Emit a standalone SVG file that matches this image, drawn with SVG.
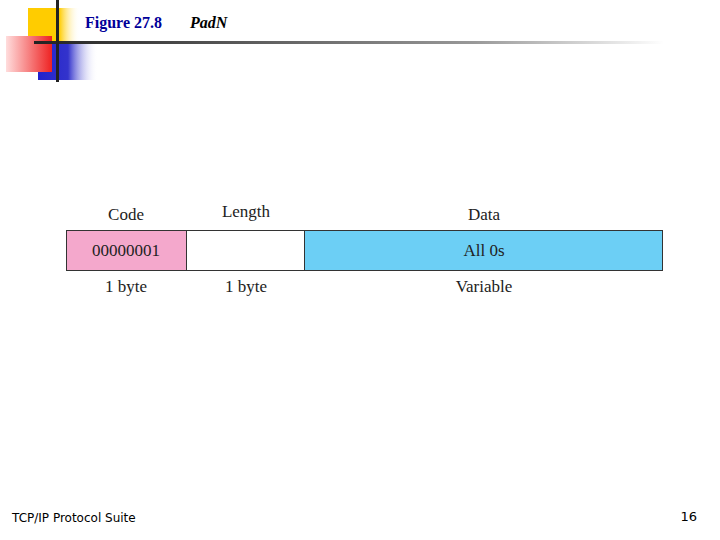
<svg xmlns="http://www.w3.org/2000/svg" width="720" height="540" viewBox="0 0 720 540">
<defs>
<linearGradient id="gy" x1="0" x2="1"><stop offset="0" stop-color="#ffcc00"/><stop offset="0.6" stop-color="#ffcc00"/><stop offset="1" stop-color="#fff" stop-opacity="0"/></linearGradient>
<linearGradient id="gr" x1="1" x2="0"><stop offset="0" stop-color="#ee2222"/><stop offset="1" stop-color="#ffdddd"/></linearGradient>
<linearGradient id="gb" x1="0" x2="1"><stop offset="0" stop-color="#2222cc"/><stop offset="0.5" stop-color="#3333cc"/><stop offset="1" stop-color="#fff" stop-opacity="0"/></linearGradient>
<linearGradient id="gl" x1="0" x2="1"><stop offset="0" stop-color="#222"/><stop offset="0.7" stop-color="#999"/><stop offset="1" stop-color="#fff"/></linearGradient>
<style>.t{font-family:"Liberation Serif",serif;font-size:17px;fill:#222;text-anchor:middle}</style>
</defs>
<g id="decor">
<rect x="28" y="8" width="52" height="37" fill="url(#gy)"/>
<rect x="38" y="42" width="60" height="38" fill="url(#gb)"/>
<rect x="6" y="36" width="46" height="36" fill="url(#gr)"/>
<rect x="34" y="41" width="630" height="3" fill="url(#gl)"/>
<rect x="56" y="0" width="3" height="82" fill="#222"/>
</g>
<text x="85" y="28" font-family="Liberation Serif,serif" font-weight="bold" font-size="16" fill="#000099">Figure 27.8</text>
<text x="190" y="28" font-family="Liberation Serif,serif" font-weight="bold" font-style="italic" font-size="16" fill="#000">PadN</text>
<g id="code"><rect x="66.5" y="230.5" width="120" height="40" fill="#f4a8cc" stroke="#333"/><text class="t" x="126" y="256">00000001</text><text class="t" x="126" y="220">Code</text><text class="t" x="126" y="292">1 byte</text></g>
<g id="length"><rect x="186.5" y="230.5" width="118" height="40" fill="#fff" stroke="#333"/><text class="t" x="246" y="217">Length</text><text class="t" x="246" y="292">1 byte</text></g>
<g id="data"><rect x="304.5" y="230.5" width="358" height="40" fill="#6ccff5" stroke="#333"/><text class="t" x="484" y="256">All 0s</text><text class="t" x="484" y="220">Data</text><text class="t" x="484" y="292">Variable</text></g>
<g id="connectors"/>
<text x="12" y="522" font-family="DejaVu Sans,sans-serif" font-size="12" fill="#000">TCP/IP Protocol Suite</text>
<text x="697" y="521" font-family="DejaVu Sans,sans-serif" font-size="13" fill="#000" text-anchor="end">16</text>
</svg>
